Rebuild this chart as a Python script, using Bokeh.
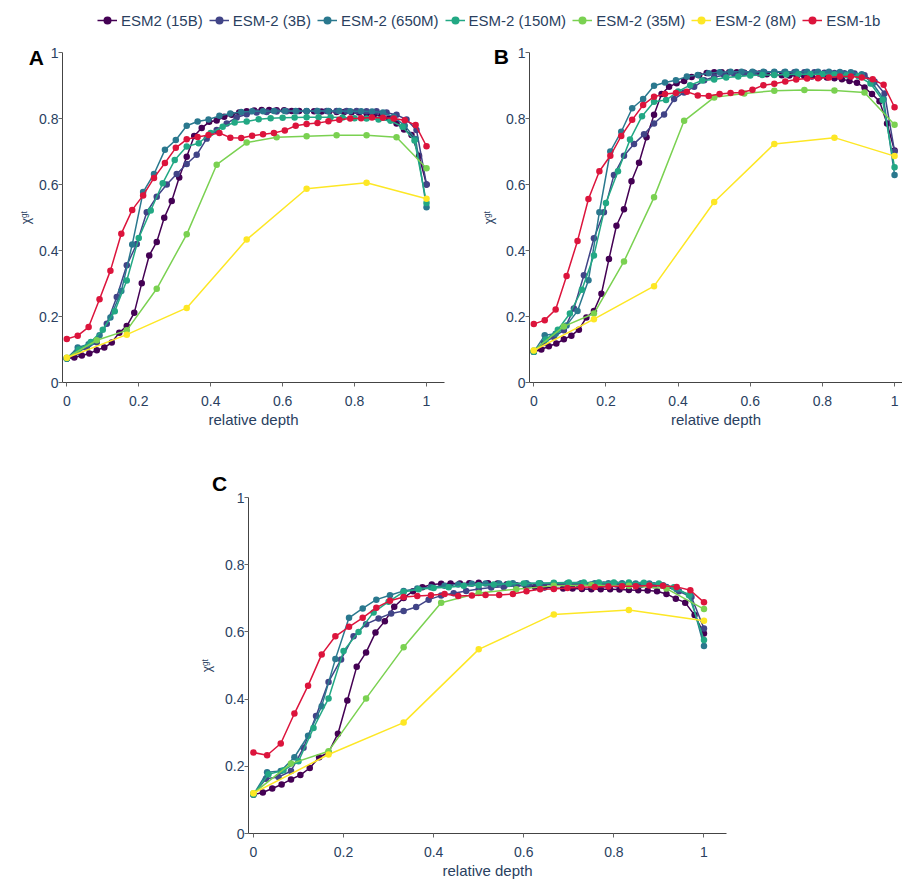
from bokeh.plotting import figure
from bokeh.layouts import column, row
from bokeh.models import (Legend, LegendItem, Label, FixedTicker,
                          CustomJSTickFormatter, Range1d)
from bokeh.embed import file_html
from bokeh.resources import INLINE

# ---------------- data ----------------
models = ["ESM2 (15B)", "ESM-2 (3B)", "ESM-2 (650M)", "ESM-2 (150M)",
          "ESM-2 (35M)", "ESM-2 (8M)", "ESM-1b"]
colors = ["#440154", "#414487", "#2a788e", "#22a884", "#7ad151", "#fde725", "#dc143c"]
n_layers = [48, 36, 33, 30, 12, 6, 33]
x_ticks = [0, 0.2, 0.4, 0.6, 0.8, 1]
y_ticks = [0, 0.2, 0.4, 0.6, 0.8, 1]

# Panel A
A_15B = [0.073, 0.076, 0.082, 0.088, 0.098, 0.106, 0.121, 0.151, 0.171, 0.211,
         0.301, 0.385, 0.426, 0.499, 0.550, 0.621, 0.684, 0.747, 0.771, 0.790,
         0.794, 0.805, 0.811, 0.818, 0.822, 0.824, 0.826, 0.826, 0.825, 0.825,
         0.823, 0.823, 0.822, 0.822, 0.821, 0.821, 0.820, 0.820, 0.819, 0.818,
         0.815, 0.812, 0.808, 0.800, 0.785, 0.767, 0.750, 0.687, 0.600]
A_3B = [0.073, 0.092, 0.105, 0.122, 0.178, 0.259, 0.355, 0.420, 0.516, 0.563,
        0.600, 0.632, 0.662, 0.690, 0.739, 0.765, 0.785, 0.803, 0.813, 0.818,
        0.820, 0.821, 0.822, 0.822, 0.822, 0.823, 0.823, 0.823, 0.823, 0.823,
        0.822, 0.822, 0.818, 0.811, 0.797, 0.765, 0.600]
A_650M = [0.073, 0.106, 0.116, 0.143, 0.197, 0.277, 0.418, 0.577, 0.632, 0.705,
          0.735, 0.778, 0.791, 0.797, 0.808, 0.815, 0.820, 0.822, 0.822, 0.823,
          0.823, 0.823, 0.823, 0.823, 0.823, 0.823, 0.822, 0.822, 0.821, 0.818,
          0.805, 0.778, 0.738, 0.531]
A_150M = [0.073, 0.100, 0.123, 0.160, 0.216, 0.309, 0.438, 0.521, 0.604, 0.674,
          0.715, 0.725, 0.756, 0.775, 0.788, 0.791, 0.798, 0.801, 0.802, 0.803,
          0.804, 0.804, 0.804, 0.803, 0.801, 0.800, 0.797, 0.793, 0.775, 0.733,
          0.544]
A_35M = [0.075, 0.128, 0.158, 0.284, 0.449, 0.660, 0.727, 0.743, 0.746, 0.749,
         0.749, 0.743, 0.649]
A_8M = [0.075, 0.145, 0.226, 0.433, 0.587, 0.605, 0.557]
A_1b = [0.132, 0.142, 0.168, 0.252, 0.339, 0.451, 0.523, 0.567, 0.620, 0.665,
        0.711, 0.737, 0.744, 0.750, 0.756, 0.742, 0.741, 0.748, 0.752, 0.756,
        0.764, 0.778, 0.783, 0.786, 0.792, 0.796, 0.800, 0.801, 0.803, 0.802,
        0.800, 0.795, 0.780, 0.716]

# Panel B
B_15B = [0.093, 0.100, 0.110, 0.118, 0.131, 0.142, 0.160, 0.197, 0.217, 0.269,
         0.374, 0.475, 0.525, 0.610, 0.666, 0.743, 0.811, 0.874, 0.896, 0.907,
         0.914, 0.926, 0.931, 0.938, 0.940, 0.940, 0.940, 0.940, 0.939, 0.938,
         0.936, 0.934, 0.933, 0.931, 0.930, 0.929, 0.928, 0.927, 0.926, 0.924,
         0.922, 0.919, 0.914, 0.908, 0.894, 0.874, 0.852, 0.785, 0.703]
B_3B = [0.093, 0.120, 0.138, 0.158, 0.224, 0.325, 0.437, 0.516, 0.629, 0.687,
        0.723, 0.752, 0.785, 0.812, 0.859, 0.879, 0.896, 0.916, 0.926, 0.931,
        0.935, 0.938, 0.939, 0.940, 0.940, 0.940, 0.940, 0.940, 0.940, 0.939,
        0.938, 0.937, 0.936, 0.931, 0.912, 0.876, 0.700]
B_650M = [0.093, 0.143, 0.148, 0.173, 0.217, 0.310, 0.516, 0.700, 0.760, 0.831,
          0.859, 0.899, 0.909, 0.916, 0.927, 0.932, 0.937, 0.940, 0.942, 0.942,
          0.942, 0.942, 0.942, 0.942, 0.942, 0.942, 0.942, 0.942, 0.941, 0.940,
          0.934, 0.906, 0.859, 0.629]
B_150M = [0.093, 0.130, 0.160, 0.209, 0.281, 0.385, 0.544, 0.640, 0.736, 0.807,
          0.851, 0.856, 0.882, 0.901, 0.915, 0.918, 0.924, 0.927, 0.930, 0.932,
          0.932, 0.933, 0.934, 0.934, 0.934, 0.933, 0.931, 0.928, 0.906, 0.856,
          0.652]
B_35M = [0.097, 0.170, 0.209, 0.367, 0.561, 0.793, 0.864, 0.876, 0.884, 0.886,
         0.885, 0.879, 0.781]
B_8M = [0.097, 0.192, 0.292, 0.547, 0.723, 0.742, 0.686]
B_1b = [0.177, 0.189, 0.221, 0.323, 0.429, 0.556, 0.640, 0.687, 0.747, 0.796,
        0.841, 0.866, 0.874, 0.877, 0.881, 0.870, 0.868, 0.874, 0.877, 0.879,
        0.887, 0.901, 0.905, 0.912, 0.918, 0.921, 0.922, 0.924, 0.927, 0.927,
        0.924, 0.919, 0.902, 0.834]

# Panel C
C_15B = [0.116, 0.122, 0.134, 0.146, 0.161, 0.174, 0.195, 0.227, 0.241, 0.297,
         0.396, 0.496, 0.539, 0.598, 0.632, 0.675, 0.701, 0.721, 0.733, 0.741,
         0.743, 0.744, 0.744, 0.745, 0.746, 0.745, 0.744, 0.742, 0.739, 0.737,
         0.734, 0.732, 0.731, 0.729, 0.729, 0.728, 0.727, 0.727, 0.727, 0.726,
         0.725, 0.724, 0.723, 0.721, 0.713, 0.699, 0.687, 0.650, 0.595]
C_3B = [0.116, 0.163, 0.168, 0.186, 0.255, 0.350, 0.451, 0.518, 0.587, 0.623,
        0.640, 0.655, 0.662, 0.674, 0.696, 0.708, 0.715, 0.722, 0.728, 0.732,
        0.734, 0.737, 0.739, 0.740, 0.741, 0.741, 0.741, 0.741, 0.741, 0.741,
        0.741, 0.740, 0.739, 0.734, 0.721, 0.704, 0.610]
C_650M = [0.116, 0.182, 0.186, 0.227, 0.291, 0.379, 0.519, 0.642, 0.670, 0.696,
          0.709, 0.722, 0.729, 0.733, 0.737, 0.741, 0.743, 0.744, 0.744, 0.745,
          0.745, 0.745, 0.745, 0.745, 0.745, 0.745, 0.745, 0.745, 0.744, 0.744,
          0.739, 0.727, 0.709, 0.558]
C_150M = [0.116, 0.176, 0.188, 0.215, 0.314, 0.402, 0.543, 0.600, 0.658, 0.690,
          0.719, 0.727, 0.731, 0.733, 0.737, 0.739, 0.741, 0.743, 0.744, 0.745,
          0.746, 0.747, 0.747, 0.747, 0.747, 0.747, 0.746, 0.744, 0.733, 0.709,
          0.576]
C_35M = [0.120, 0.208, 0.245, 0.402, 0.554, 0.687, 0.716, 0.727, 0.737, 0.739,
         0.737, 0.729, 0.668]
C_8M = [0.120, 0.235, 0.330, 0.548, 0.652, 0.665, 0.633]
C_1b = [0.241, 0.233, 0.268, 0.357, 0.440, 0.533, 0.587, 0.615, 0.642, 0.672,
        0.693, 0.704, 0.707, 0.709, 0.713, 0.707, 0.708, 0.710, 0.710, 0.713,
        0.721, 0.727, 0.728, 0.731, 0.733, 0.734, 0.735, 0.736, 0.736, 0.738,
        0.737, 0.734, 0.724, 0.688]

panel_A = [A_15B, A_3B, A_650M, A_150M, A_35M, A_8M, A_1b]
panel_B = [B_15B, B_3B, B_650M, B_150M, B_35M, B_8M, B_1b]
panel_C = [C_15B, C_3B, C_650M, C_150M, C_35M, C_8M, C_1b]

# ---------------- style ----------------
FONT = "Liberation Sans"
TXT = "#2a3f5f"
AXC = "#444444"


def depth(ys, n):
    return [i / n for i in range(len(ys))]


def make_panel(series, letter, letter_xy, frame_w, frame_h, x_range,
               b_left, b_right, b_top, b_bottom, ylab_standoff):
    p = figure(frame_width=frame_w, frame_height=frame_h,
               x_range=Range1d(*x_range), y_range=Range1d(0, 1),
               output_backend="svg", toolbar_location=None,
               min_border_left=b_left, min_border_right=b_right,
               min_border_top=b_top, min_border_bottom=b_bottom)
    p.outline_line_color = None
    p.grid.visible = False
    for ys, color, n in zip(series, colors, n_layers):
        xs = depth(ys, n)
        p.line(xs, ys, line_color=color, line_width=1.5)
        p.scatter(xs, ys, size=6.5, fill_color=color, line_color=None)

    for ax in (p.xaxis[0], p.yaxis[0]):
        ax.axis_line_color = AXC
        ax.axis_line_width = 1
        ax.major_tick_line_color = "#666666"
        ax.major_tick_out = 4
        ax.major_tick_in = 0
        ax.minor_tick_line_color = None
        ax.major_label_text_font = FONT
        ax.major_label_text_font_size = "14px"
        ax.major_label_text_color = TXT
        ax.axis_label_text_font = FONT
        ax.axis_label_text_font_style = "normal"
        ax.axis_label_text_color = TXT
        ax.formatter = CustomJSTickFormatter(code="return String(Math.round(tick*10)/10);")
    p.xaxis.ticker = FixedTicker(ticks=x_ticks)
    p.yaxis.ticker = FixedTicker(ticks=y_ticks)
    p.xaxis.axis_label = "relative depth"
    p.xaxis.axis_label_text_font_size = "15px"
    p.xaxis.major_label_standoff = 9
    p.xaxis.axis_label_standoff = 2
    p.yaxis.axis_label = "χᵍᵗ"
    p.yaxis.axis_label_text_font_size = "12px"
    p.yaxis.major_label_standoff = 0
    p.yaxis.axis_label_standoff = ylab_standoff

    # panel letter lives in the left side panel (not clipped to the frame)
    p.add_layout(Label(x=letter_xy[0], y=letter_xy[1],
                       text=letter, text_font=FONT, text_font_style="bold",
                       text_font_size="21px", text_color="black",
                       text_align="center", text_baseline="middle"), "left")
    return p


pA = make_panel(panel_A, "A", (-0.085, 0.986), 382, 330, (-0.012, 1.05), 62, 18, 20, 49, 3)
pB = make_panel(panel_B, "B", (-0.090, 0.988), 373, 330, (-0.0119, 1.022), 67, 0, 20, 49, 7)
pC = make_panel(panel_C, "C", (-0.075, 1.041), 478, 336, (-0.011, 1.05), 248, 20, 66, 49, 8)

# ---------------- legend strip ----------------
lf = figure(width=902, height=32, x_range=Range1d(2, 3), y_range=Range1d(2, 3),
            x_axis_location=None, y_axis_location=None, toolbar_location=None,
            output_backend="svg", min_border=0)
lf.outline_line_color = None
lf.grid.visible = False
items = []
for ys, name, color, n in zip(panel_A, models, colors, n_layers):
    xs = depth(ys, n)
    r1 = lf.line(xs, ys, line_color=color, line_width=1.5)
    r2 = lf.scatter(xs, ys, size=6.5, fill_color=color, line_color=None)
    items.append(LegendItem(label=name, renderers=[r1, r2]))
leg = Legend(items=items, orientation="horizontal", location=(97, 2),
             glyph_width=20, glyph_height=20, label_height=20, label_standoff=4,
             spacing=6, padding=0, margin=0, border_line_color=None,
             background_fill_alpha=0, label_text_font=FONT,
             label_text_font_size="15px", label_text_color=TXT)
lf.add_layout(leg)

layout = column(row(lf), row(pA, pB), row(pC))
open("out.html", "w").write(file_html(layout, INLINE))
